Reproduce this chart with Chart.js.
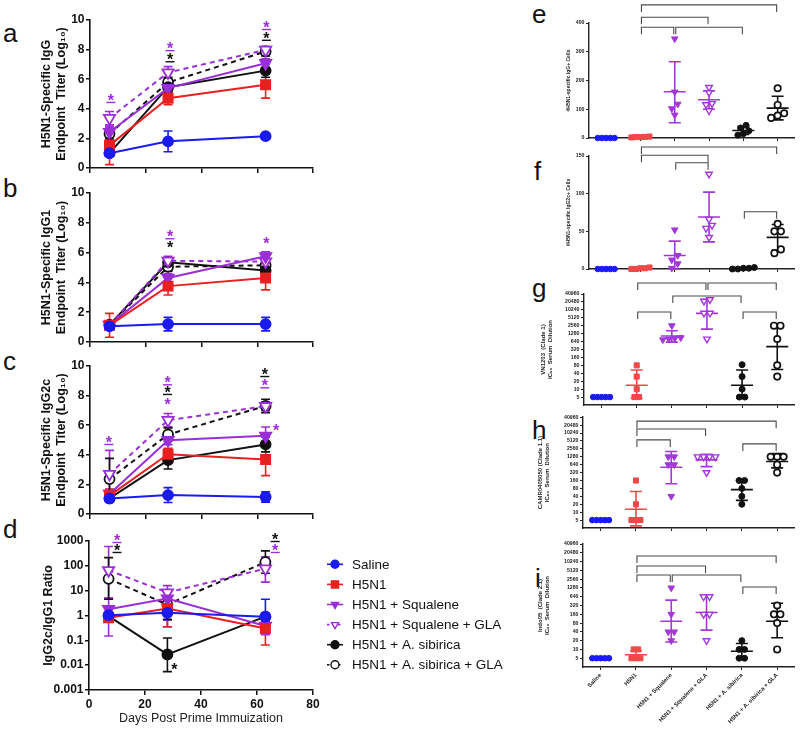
<!DOCTYPE html>
<html><head><meta charset="utf-8">
<script src="https://cdn.jsdelivr.net/npm/chart.js@4.4.1/dist/chart.umd.min.js"></script>
<style>
html,body{margin:0;padding:0;background:#fff;width:800px;height:729px;overflow:hidden;}
#wrap{position:relative;width:800px;height:729px;background:#fff;}
canvas{position:absolute;}
.lbl{position:absolute;font-family:"Liberation Sans",Arial,sans-serif;font-size:26px;line-height:26px;color:#111;}
</style></head><body><div id="wrap">
<div class="lbl" style="left:3px;top:20px">a</div>
<div class="lbl" style="left:3px;top:175px">b</div>
<div class="lbl" style="left:3px;top:348px">c</div>
<div class="lbl" style="left:3px;top:516px">d</div>
<div class="lbl" style="left:532px;top:1px">e</div>
<div class="lbl" style="left:534px;top:158px">f</div>
<div class="lbl" style="left:532px;top:275px">g</div>
<div class="lbl" style="left:532px;top:417px">h</div>
<div class="lbl" style="left:535px;top:565px">i</div>
</div>
<script>
// ================= DATA =================
const DAYS = [7, 28, 63];
const GROUPS = ['Saline','H5N1','H5N1 + Squalene','H5N1 + Squalene + GLA','H5N1 + A. sibirica','H5N1 + A. sibirica + GLA'];
const X_TICKS = [0, 20, 40, 60, 80];
const TITER_TICKS = [0, 2, 4, 6, 8, 10];
const RATIO_TICKS = [0.001, 0.01, 0.1, 1, 10, 100, 1000];
const IC90_TICKS = [5,10,20,40,80,160,320,640,1280,2560,5120,10240,20480,40960];
const E_TICKS = [0,100,200,300,400];
const F_TICKS = [0,50,100,150];

// a: IgG titer (log10), mean and SD per group (rows = groups, cols = days)
const IGG_MEAN = [[1.0,1.8,2.15],[1.53,4.72,5.62],[2.43,5.4,7.08],[3.37,6.45,7.98],[1.0,5.46,6.58],[2.31,5.78,7.87]];
const IGG_SD   = [[0.05,0.7,0.1],[1.3,0.45,0.9],[0.35,0.3,0.3],[0.45,0.4,0.25],[0.05,0.3,0.45],[0.35,0.35,0.3]];
// b: IgG1
const IGG1_MEAN = [[1.05,1.2,1.2],[1.12,3.75,4.3],[1.15,4.3,5.75],[1.15,5.45,5.4],[1.15,5.35,4.8],[1.15,5.05,5.15]];
const IGG1_SD   = [[0.05,0.45,0.45],[0.8,0.6,0.8],[0.1,0.3,0.3],[0.1,0.3,0.2],[0.1,0.25,0.2],[0.1,0.3,0.25]];
// c: IgG2c
const IGG2C_MEAN = [[1.05,1.28,1.15],[1.24,4.04,3.69],[1.35,4.99,5.28],[2.7,6.34,7.28],[1.05,3.64,4.7],[2.36,5.37,7.3]];
const IGG2C_SD   = [[0.1,0.5,0.35],[0.45,0.4,1.1],[0.3,0.3,0.6],[1.6,0.45,0.3],[0.1,0.6,0.5],[1.4,0.45,0.45]];
// d: IgG2c/IgG1 ratio with lower/upper error
const RATIO_MEAN = [[1.03,1.28,0.89],[0.81,1.9,0.3],[1.8,4.8,0.38],[66,8.4,77],[0.95,0.027,0.9],[30,2.75,140]];
const RATIO_LO   = [[0.95,0.35,0.18],[0.6,0.35,0.065],[0.15,0.65,0.17],[5,4,22],[0.85,0.0055,0.6],[4.5,0.7,50]];
const RATIO_HI   = [[1.1,2.4,4.5],[1.05,10.4,0.9],[5,10,1.0],[600,16,230],[1.05,0.125,1.2],[215,4.1,400]];

// e: #IgG+ cells
const E_PTS  = [[0,0,0,0,0],[2,3,4,5,3],[345,160,118,102,80],[176,158,120,116,95],[44,35,25,15,10],[173,115,86,78,70]];
const E_MEAN = [0,3,161,133,26,104];
const E_LO   = [0,2,53,100,12,63];
const E_HI   = [0,4,265,164,40,145];
// f: #IgG2c+ cells
const F_PTS  = [[0,0,0,0,0],[0,1,2,1,0],[52,18,12,7,1],[126,66,58,54,42],[2,1,0,1,0],[60,50,50,26,21]];
const F_MEAN = [0,1,18,69,1,42];
const F_LO   = [0,0,0,36,0,25];
const F_HI   = [0,2,37,102,2,59];
// g: VN1203 IC90
const G_PTS  = [[5,5,5,5,5],[80,30,10,5,5],[2560,900,850,800,750],[25000,22000,7680,7680,800],[85,30,10,5,5],[2560,2560,800,80,30]];
const G_MEAN = [5,14,1040,7500,14,410];
const G_LO   = [5,4.5,610,1900,4.5,56];
const G_HI   = [5,53,1650,25000,53,2560];
// h: CAMR0405050 IC90
const H_PTS  = [[5,5,5,5,5],[160,20,5,5,5],[1280,1280,640,640,40],[1280,1280,1280,1280,320],[160,160,80,40,20],[1280,1280,1280,640,320]];
const H_MEAN = [5,13,510,975,72,850];
const H_LO   = [5,3,120,540,28,485];
const H_HI   = [5,61,2020,1600,165,1690];
// i: Indo05 IC90
const I_PTS  = [[5,5,5,5,5],[10,10,5,5,5],[1280,160,40,40,20],[640,640,160,160,20],[20,10,10,5,5],[320,160,160,80,10]];
const I_MEAN = [5,6.6,92,184,8.7,92];
const I_LO   = [5,4.8,18,46,5,25];
const I_HI   = [5,9,490,700,16,380];

// comparison brackets [group i, group j, level in y units]
const E_BR = [[1,5,463],[1,3,420],[1,2,385],[2,4,385]];
const F_BR = [[1,5,162],[1,3,151],[2,3,141],[4,5,76]];
const G_BR = [[1,3,107000],[3,5,107000],[2,4,34500],[1,2,8500],[4,5,8500]];
const H_BR = [[1,5,29000],[1,3,14500],[1,2,5600],[4,5,3950]];
const I_BR = [[1,5,15850],[1,3,7190],[1,2,3530],[2,4,3530],[4,5,1370]];

// ================= STYLE =================
const FONT = '"Liberation Sans", Arial, Helvetica, sans-serif';
Chart.defaults.font.family = FONT;
Chart.defaults.color = '#111';
const BLUE='#1a1af2', RED='#e8201f', PURPLE='#9a2fd8', BLACK='#111111';
const RED2='#f04848', PURPLE2='#a337d9';
const LST = [
  {c:BLUE, f:BLUE, s:'circle', rot:0, r:5, dash:[]},
  {c:RED, f:RED, s:'rect', rot:0, r:6.5, dash:[]},
  {c:PURPLE, f:PURPLE, s:'triangle', rot:180, r:6.5, dash:[]},
  {c:PURPLE, f:'#fff', s:'triangle', rot:180, r:6.5, dash:[5,4]},
  {c:BLACK, f:BLACK, s:'circle', rot:0, r:5, dash:[]},
  {c:BLACK, f:'#fff', s:'circle', rot:0, r:5, dash:[5,4]}
];
const DST = [
  {c:BLUE, f:BLUE, s:'circle', rot:0, r:2.8, bw:1, step:4.2},
  {c:RED2, f:RED2, s:'rect', rot:0, r:3.6, bw:1, step:4.5},
  {c:PURPLE2, f:PURPLE2, s:'triangle', rot:180, r:3.8, bw:1, step:6},
  {c:PURPLE2, f:'#fff', s:'triangle', rot:180, r:3.8, bw:1.4, step:6},
  {c:BLACK, f:BLACK, s:'circle', rot:0, r:3, bw:1, step:5.5},
  {c:BLACK, f:'#fff', s:'circle', rot:0, r:3.2, bw:1.7, step:6.5}
];

function mk(box){
  const c=document.createElement('canvas');
  c.width=box.w; c.height=box.h;
  c.style.left=box.x+'px'; c.style.top=box.y+'px';
  c.style.width=box.w+'px'; c.style.height=box.h+'px';
  document.getElementById('wrap').appendChild(c);
  return c;
}
function drawMarker(ctx, s, x, y, r, fill, stroke, bw, rot){
  ctx.save(); ctx.fillStyle=fill; ctx.strokeStyle=stroke; ctx.lineWidth=bw; ctx.setLineDash([]);
  ctx.beginPath();
  if(s==='circle'){ ctx.arc(x,y,r,0,Math.PI*2); }
  else if(s==='rect'){ const q=r*Math.SQRT1_2; ctx.rect(x-q,y-q,2*q,2*q); }
  else { let a=rot*Math.PI/180; for(let k=0;k<3;k++){ const px=x+Math.sin(a)*r, py=y-Math.cos(a)*r; k?ctx.lineTo(px,py):ctx.moveTo(px,py); a+=2*Math.PI/3; } ctx.closePath(); }
  ctx.fill(); ctx.stroke(); ctx.restore();
}

// ========== line panels (a-d) ==========
function lineChart(o){
  const {box, area} = o;
  const cv = mk(box);
  const datasets = GROUPS.map((g,i)=>({
    label:g,
    data: DAYS.map((d,k)=>({x:d, y:o.mean[i][k]})),
    errLo:o.lo[i], errHi:o.hi[i],
    borderColor:LST[i].c, backgroundColor:LST[i].f,
    pointBackgroundColor:LST[i].f, pointBorderColor:LST[i].c,
    pointStyle:LST[i].s, pointRotation:LST[i].rot, pointRadius:LST[i].r, pointHoverRadius:LST[i].r,
    pointBorderWidth:1.8, borderWidth:2, borderDash:LST[i].dash, tension:0, fill:false, clip:false
  }));
  const errPlugin = {id:'err'+o.id, beforeDatasetsDraw(chart){
    const ctx=chart.ctx, ys=chart.scales.y;
    chart.data.datasets.forEach((ds,i)=>{
      chart.getDatasetMeta(i).data.forEach((pt,k)=>{
        const y1=ys.getPixelForValue(ds.errLo[k]), y2=ys.getPixelForValue(ds.errHi[k]);
        ctx.save(); ctx.strokeStyle=ds.borderColor; ctx.lineWidth=1.6; ctx.setLineDash([]);
        ctx.beginPath(); ctx.moveTo(pt.x,y1); ctx.lineTo(pt.x,y2);
        ctx.moveTo(pt.x-4.5,y1); ctx.lineTo(pt.x+4.5,y1); ctx.moveTo(pt.x-4.5,y2); ctx.lineTo(pt.x+4.5,y2);
        ctx.stroke(); ctx.restore();
      });
    });
  }};
  const starPlugin = {id:'star'+o.id, afterDatasetsDraw(chart){
    const ctx=chart.ctx, xs=chart.scales.x, ys=chart.scales.y;
    (o.stars||[]).forEach(s=>{
      const x=xs.getPixelForValue(s.x), y=ys.getPixelForValue(s.y);
      ctx.save(); ctx.font='bold 16px '+FONT; ctx.fillStyle=s.c; ctx.textAlign='center'; ctx.textBaseline='alphabetic';
      ctx.fillText('*', x, y+9);
      if(s.u){ ctx.strokeStyle=s.c; ctx.lineWidth=1.4; ctx.beginPath(); ctx.moveTo(x-4.5,y+5.5); ctx.lineTo(x+4.5,y+5.5); ctx.stroke(); }
      ctx.restore();
    });
  }};
  const plugins=[errPlugin, starPlugin];
  if(o.legend){
    plugins.push({id:'lg', afterDraw(chart){
      const ctx=chart.ctx, L=o.legend;
      chart.data.datasets.forEach((ds,i)=>{
        const y=L.y+i*L.dy;
        ctx.save(); ctx.strokeStyle=ds.borderColor; ctx.lineWidth=1.6;
        ctx.setLineDash(ds.borderDash.length?[2.5,3]:[]);
        ctx.beginPath(); ctx.moveTo(L.x,y); ctx.lineTo(L.x+16,y); ctx.stroke(); ctx.restore();
        drawMarker(ctx, ds.pointStyle, L.x+8, y, ds.pointStyle==='rect'?5:4, ds.pointBackgroundColor, ds.pointBorderColor, 1.4, ds.pointRotation);
        ctx.save(); ctx.fillStyle='#111'; ctx.font='13.5px '+FONT; ctx.textBaseline='middle'; ctx.textAlign='left';
        ctx.fillText(ds.label, L.x+25, y+0.5); ctx.restore();
      });
    }});
  }
  const tickFont={size:12, weight:'bold', family:FONT};
  new Chart(cv,{
    type:'line',
    data:{datasets},
    options:{
      responsive:false, animation:false, devicePixelRatio:1, events:[],
      layout:{padding:{left:0, top:area.t-box.y, right:box.x+box.w-area.r, bottom:0}},
      plugins:{legend:{display:false}, tooltip:{enabled:false}},
      scales:{
        x:{type:'linear', min:0, max:80,
          afterBuildTicks:s=>{s.ticks=X_TICKS.map(v=>({value:v}));},
          afterFit:s=>{s.height=box.y+box.h-area.b;},
          grid:{drawOnChartArea:false, tickLength:5, color:'#111', lineWidth:1.5},
          border:{color:'#111', width:1.6},
          ticks:{callback:v=>o.xLabels?String(v):'', font:tickFont, color:'#111', padding:2, maxRotation:0, autoSkip:false},
          title:{display:!!o.xTitle, text:o.xTitle||'', font:{size:12.5, family:FONT}, color:'#222', padding:{top:0,bottom:3}}
        },
        y:{type:o.log?'logarithmic':'linear', min:o.min, max:o.max,
          afterBuildTicks:s=>{s.ticks=o.ticks.map(v=>({value:v}));},
          afterFit:s=>{s.width=area.l-box.x;},
          grid:{drawOnChartArea:false, tickLength:4, color:'#111', lineWidth:1.5},
          border:{color:'#111', width:1.6},
          ticks:{callback:v=>String(v), font:tickFont, color:'#111', padding:1.5, autoSkip:false},
          title:{display:true, text:o.yTitle, font:{size:12.5, weight:'bold', family:FONT, lineHeight:1.2}, color:'#111', padding:{top:o.yTitlePad, bottom:0}}
        }
      }
    },
    plugins
  });
}

function sdLo(m,s){return m.map((r,i)=>r.map((v,k)=>v-s[i][k]));}
function sdHi(m,s){return m.map((r,i)=>r.map((v,k)=>v+s[i][k]));}
const TITER_TITLE2 = 'Endpoint  Titer (Log\u2081\u2080)';

lineChart({id:'a', box:{x:0,y:0,w:330,h:180}, area:{l:90,t:20,r:313,b:168},
  mean:IGG_MEAN, lo:sdLo(IGG_MEAN,IGG_SD), hi:sdHi(IGG_MEAN,IGG_SD), min:0, max:10, ticks:TITER_TICKS,
  yTitle:['H5N1-Specific IgG', TITER_TITLE2], yTitlePad:39.5,
  stars:[{x:7.5,y:4.8,c:PURPLE,u:1},{x:28.7,y:8.3,c:PURPLE,u:1},{x:28.7,y:7.55,c:BLACK,u:1},{x:63.3,y:9.73,c:PURPLE,u:1},{x:63.3,y:9.0,c:BLACK,u:1}]});
lineChart({id:'b', box:{x:0,y:175,w:330,h:180}, area:{l:90,t:193,r:313,b:342},
  mean:IGG1_MEAN, lo:sdLo(IGG1_MEAN,IGG1_SD), hi:sdHi(IGG1_MEAN,IGG1_SD), min:0, max:10, ticks:TITER_TICKS,
  yTitle:['H5N1-Specific IgG1', TITER_TITLE2], yTitlePad:39.5,
  stars:[{x:28.7,y:7.3,c:PURPLE,u:1},{x:28.7,y:6.55,c:BLACK,u:0},{x:63.3,y:6.85,c:PURPLE,u:0}]});
lineChart({id:'c', box:{x:0,y:350,w:330,h:175}, area:{l:90,t:366,r:313,b:514},
  mean:IGG2C_MEAN, lo:sdLo(IGG2C_MEAN,IGG2C_SD), hi:sdHi(IGG2C_MEAN,IGG2C_SD), min:0, max:10, ticks:TITER_TICKS,
  yTitle:['H5N1-Specific IgG2c', TITER_TITLE2], yTitlePad:39.5,
  stars:[{x:6.8,y:5.07,c:PURPLE,u:1},{x:27.8,y:9.1,c:PURPLE,u:1},{x:27.8,y:8.45,c:BLACK,u:1},{x:27.8,y:7.65,c:PURPLE,u:0},
         {x:62.7,y:9.66,c:BLACK,u:1},{x:62.7,y:8.9,c:PURPLE,u:1},{x:66.8,y:5.9,c:PURPLE,u:0}]});
lineChart({id:'d', box:{x:0,y:525,w:530,h:204}, area:{l:89,t:541,r:313,b:690},
  mean:RATIO_MEAN, lo:RATIO_LO, hi:RATIO_HI, log:true, min:0.001, max:1000, ticks:RATIO_TICKS,
  yTitle:'IgG2c/IgG1 Ratio', yTitlePad:41.5, xLabels:true, xTitle:'Days Post Prime Immuization',
  stars:[{x:10,y:1450,c:PURPLE,u:1},{x:10,y:575,c:BLACK,u:1},{x:66.5,y:1590,c:BLACK,u:1},{x:66.5,y:575,c:PURPLE,u:1},{x:30.5,y:0.0089,c:BLACK,u:0}],
  legend:{x:327, y:564.3-525, dy:20.1}});

// ========== dot panels (e-i) ==========
function jitter(pys, step){
  const idx=pys.map((p,k)=>k).sort((a,b)=>pys[a]-pys[b]);
  const off=new Array(pys.length).fill(0);
  let k=0;
  while(k<idx.length){
    let j=k; while(j+1<idx.length && pys[idx[j+1]]-pys[idx[k]]<5) j++;
    const n=j-k+1;
    for(let m=0;m<n;m++) off[idx[k+m]]=(m-(n-1)/2)*step;
    k=j+1;
  }
  return off;
}
function dotChart(o){
  const {box, area}=o;
  const cv=mk(box);
  const H=area.b-area.t, W=area.r-area.l, ppu=W/6;
  const toPx=v=>o.log?Math.log(v/o.min)/Math.log(o.max/o.min)*H:(v-o.min)/(o.max-o.min)*H;
  const datasets=GROUPS.map((g,i)=>{
    const st=DST[i];
    const offs=jitter(o.pts[i].map(toPx), st.step);
    return {label:g, data:o.pts[i].map((v,k)=>({x:i+offs[k]/ppu, y:v})),
      pointStyle:st.s, pointRotation:st.rot, pointRadius:st.r, pointHoverRadius:st.r,
      pointBackgroundColor:st.f, pointBorderColor:st.c, pointBorderWidth:st.bw, clip:false};
  });
  const msPlugin={id:'ms'+o.id, beforeDatasetsDraw(chart){
    const ctx=chart.ctx, xs=chart.scales.x, ys=chart.scales.y;
    GROUPS.forEach((g,i)=>{
      const x=xs.getPixelForValue(i), ym=ys.getPixelForValue(o.mean[i]);
      ctx.save(); ctx.strokeStyle=DST[i].c; ctx.lineWidth=1.6; ctx.beginPath();
      ctx.moveTo(x-11,ym); ctx.lineTo(x+11,ym);
      if(o.hi[i]!==o.lo[i]){
        const y1=ys.getPixelForValue(o.lo[i]), y2=ys.getPixelForValue(o.hi[i]);
        ctx.moveTo(x,y1); ctx.lineTo(x,y2);
        ctx.moveTo(x-6,y1); ctx.lineTo(x+6,y1); ctx.moveTo(x-6,y2); ctx.lineTo(x+6,y2);
      }
      ctx.stroke(); ctx.restore();
    });
  }, afterDraw(chart){
    const ctx=chart.ctx, xs=chart.scales.x, ys=chart.scales.y;
    o.br.forEach(b=>{
      const x1=xs.getPixelForValue(b[0])+1, x2=xs.getPixelForValue(b[1])-1, y=ys.getPixelForValue(b[2]);
      ctx.save(); ctx.strokeStyle='#4a4a4a'; ctx.lineWidth=1.1; ctx.beginPath();
      ctx.moveTo(x1,y+7); ctx.lineTo(x1,y); ctx.lineTo(x2,y); ctx.lineTo(x2,y+7); ctx.stroke(); ctx.restore();
    });
  }};
  const tf={size:5.2, weight:'bold', family:FONT};
  new Chart(cv,{
    type:'scatter',
    data:{datasets},
    options:{
      responsive:false, animation:false, devicePixelRatio:1, events:[],
      layout:{padding:{left:0, top:area.t-box.y, right:box.x+box.w-area.r, bottom:0}},
      plugins:{legend:{display:false}, tooltip:{enabled:false}},
      scales:{
        x:{type:'linear', min:-0.5, max:5.5,
          afterBuildTicks:s=>{s.ticks=GROUPS.map((g,i)=>({value:i}));},
          afterFit:s=>{s.height=box.y+box.h-area.b;},
          grid:{drawOnChartArea:false, tickLength:3, color:'#222', lineWidth:1},
          border:{color:'#222', width:1.4},
          ticks:{callback:v=>o.xLabels?GROUPS[v]:'', font:{size:5.8, weight:'bold', family:FONT}, color:'#222',
                 padding:2, autoSkip:false, minRotation:o.xLabels?45:0, maxRotation:o.xLabels?45:0}
        },
        y:{type:o.log?'logarithmic':'linear', min:o.min, max:o.max,
          afterBuildTicks:s=>{s.ticks=o.ticks.map(v=>({value:v}));},
          afterFit:s=>{s.width=area.l-box.x;},
          grid:{drawOnChartArea:false, tickLength:3, color:'#222', lineWidth:1},
          border:{color:'#222', width:1.4},
          ticks:{callback:v=>String(v), font:tf, color:'#222', padding:1.5, autoSkip:false},
          title:{display:true, text:o.title, font:{size:o.titleSize, weight:'bold', family:FONT, lineHeight:1.3}, color:'#222', padding:{top:o.titlePad, bottom:0}}
        }
      }
    },
    plugins:[msPlugin]
  });
}
const IC90 = 'IC\u2089\u2080  Serum  Dilution';
dotChart({id:'e', box:{x:530,y:0,w:270,h:145}, area:{l:589,t:23,r:795,b:138}, pts:E_PTS, mean:E_MEAN, lo:E_LO, hi:E_HI,
  min:0, max:400, ticks:E_TICKS, br:E_BR, title:'#H5N1-specific IgG+ Cells', titleSize:5, titlePad:35.3});
dotChart({id:'f', box:{x:530,y:145,w:270,h:130}, area:{l:589,t:156,r:795,b:269}, pts:F_PTS, mean:F_MEAN, lo:F_LO, hi:F_HI,
  min:0, max:150, ticks:F_TICKS, br:F_BR, title:'#H5N1-specific IgG2c+ Cells', titleSize:5, titlePad:35.3});
dotChart({id:'g', box:{x:530,y:275,w:270,h:138}, area:{l:584,t:294,r:795,b:405}, pts:G_PTS, mean:G_MEAN, lo:G_LO, hi:G_HI,
  log:true, min:2.5, max:40960, ticks:IC90_TICKS, br:G_BR, title:['VN1203  (Clade 1)', IC90], titleSize:6, titlePad:9});
dotChart({id:'h', box:{x:530,y:412,w:270,h:125}, area:{l:583,t:416,r:796,b:528}, pts:H_PTS, mean:H_MEAN, lo:H_LO, hi:H_HI,
  log:true, min:2.5, max:40960, ticks:IC90_TICKS, br:H_BR, title:['CAMR0405050 (Clade 1.1)', IC90], titleSize:6, titlePad:6});
dotChart({id:'i', box:{x:530,y:536,w:270,h:193}, area:{l:583,t:544,r:797,b:667}, pts:I_PTS, mean:I_MEAN, lo:I_LO, hi:I_HI,
  log:true, min:2.5, max:40960, ticks:IC90_TICKS, br:I_BR, title:['Indo05  (Clade 2.1)', IC90], titleSize:6, titlePad:6, xLabels:true});
</script>
</body></html>
